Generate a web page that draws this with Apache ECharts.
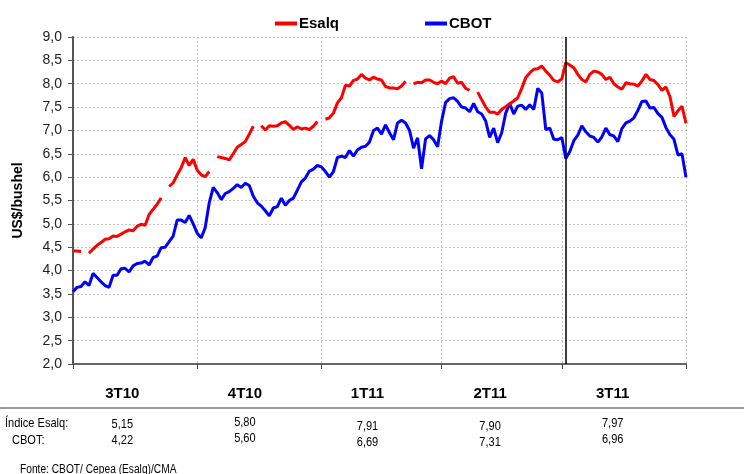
<!DOCTYPE html>
<html><head><meta charset="utf-8">
<script src="https://cdn.jsdelivr.net/npm/echarts@6/dist/echarts.min.js"></script>
<style>html,body{margin:0;padding:0;background:#fff}#c{width:744px;height:474px}</style>
</head><body><div id="c"></div>
<script>
// Quarter labels under the axis
const quarters = ['3T10', '4T10', '1T11', '2T11', '3T11'];
// Index (day position) where each quarter begins, and the end
const quarterBounds = [0, 31, 62, 92, 122, 153];
// Position of the vertical divider line
const dividerIndex = 123;

// Esalq index, US$/bushel (null = no quote)
const esalq = [
  4.42, 4.42, 4.41, null, 4.37, 4.46, 4.54, 4.60, 4.67, 4.68,
  4.74, 4.73, 4.78, 4.83, 4.87, 4.85, 4.95, 4.99, 4.97, 5.20,
  5.31, 5.42, 5.56, null, 5.80, 5.88, 6.05, 6.20, 6.42, 6.25,
  6.38, 6.15, 6.05, 6.01, 6.12, null, 6.44, 6.42, 6.40, 6.37,
  6.50, 6.64, 6.70, 6.76, 6.92, 7.09, null, 7.10, 7.01, 7.10,
  7.09, 7.10, 7.16, 7.19, 7.11, 7.02, 7.08, 7.03, 7.05, 7.02,
  7.09, 7.19, null, 7.24, 7.27, 7.37, 7.59, 7.70, 7.97, 7.95,
  8.07, 8.10, 8.20, 8.12, 8.08, 8.14, 8.10, 8.08, 7.94, 7.91,
  7.91, 7.89, 7.95, 8.05, null, 8.00, 8.03, 8.02, 8.08, 8.08,
  8.03, 8.00, 8.06, 8.00, 8.12, 8.15, 8.01, 8.03, 7.90, 7.86,
  null, 7.82, 7.66, 7.50, 7.39, 7.39, 7.35, 7.45, 7.51, 7.57,
  7.63, 7.70, 7.90, 8.13, 8.23, 8.31, 8.32, 8.38, 8.27, 8.18,
  8.07, 8.04, 8.10, 8.45, 8.40, 8.34, 8.20, 8.09, 8.04, 8.20,
  8.27, 8.25, 8.20, 8.09, 8.14, 8.00, 7.93, 7.88, 8.02, 8.00,
  7.99, 7.95, 8.06, 8.20, 8.09, 8.07, 7.98, 7.86, 7.93, 7.72,
  7.30, 7.42, 7.52, 7.15
];

// CBOT, US$/bushel
const cbot = [
  3.55, 3.64, 3.66, 3.76, 3.68, 3.94, 3.85, 3.76, 3.68, 3.64,
  3.90, 3.90, 4.04, 4.05, 3.97, 4.10, 4.15, 4.16, 4.20, 4.12,
  4.28, 4.31, 4.49, 4.50, 4.62, 4.74, 5.08, 5.08, 5.03, 5.18,
  5.00, 4.80, 4.70, 4.92, 5.45, 5.78, 5.67, 5.52, 5.65, 5.69,
  5.76, 5.84, 5.78, 5.87, 5.82, 5.59, 5.45, 5.38, 5.28, 5.17,
  5.34, 5.37, 5.55, 5.40, 5.50, 5.55, 5.72, 5.90, 5.98, 6.13,
  6.17, 6.25, 6.22, 6.12, 6.00, 6.12, 6.42, 6.45, 6.42, 6.57,
  6.45, 6.58, 6.64, 6.66, 6.75, 7.00, 7.05, 6.92, 7.12, 6.95,
  6.80, 7.16, 7.22, 7.16, 7.00, 6.62, 6.84, 6.18, 6.82, 6.89,
  6.80, 6.65, 7.20, 7.60, 7.68, 7.70, 7.62, 7.50, 7.48, 7.40,
  7.58, 7.40, 7.35, 7.20, 6.85, 7.05, 6.74, 6.95, 7.37, 7.58,
  7.35, 7.52, 7.54, 7.45, 7.55, 7.45, 7.90, 7.80, 7.02, 7.05,
  6.81, 6.80, 6.85, 6.40, 6.55, 6.78, 6.90, 7.10, 6.97, 6.88,
  6.85, 6.75, 6.86, 7.05, 6.91, 6.88, 6.76, 7.04, 7.16, 7.20,
  7.27, 7.43, 7.62, 7.63, 7.48, 7.49, 7.36, 7.28, 7.06, 6.91,
  6.81, 6.47, 6.50, 6.00
];

// Quarterly averages table
const rowLabels = ['Índice Esalq:', 'CBOT:'];
const tableEsalq = ['5,15', '5,80', '7,91', '7,90', '7,97'];
const tableCbot = ['4,22', '5,60', '6,69', '7,31', '6,96'];
const sourceText = 'Fonte: CBOT/ Cepea (Esalq)/CMA';

const FONT = 'Arial';

const chart = echarts.init(document.getElementById('c'), null, {renderer: 'canvas'});
const idx = esalq.map((_, i) => i);

chart.setOption({
  animation: false,
  backgroundColor: '#fff',
  textStyle: {fontFamily: FONT},
  legend: {
    left: 270, top: 11,
    itemGap: 86, itemWidth: 22, itemHeight: 4,
    icon: 'rect',
    textStyle: {fontFamily: FONT, fontSize: 15, fontWeight: 'bold', color: '#000', padding: [0, 0, 0, -3]},
    data: ['Esalq', 'CBOT']
  },
  grid: {left: 73, right: 58, top: 37, bottom: 110, containLabel: false},
  xAxis: [{
    type: 'category', data: idx, boundaryGap: false,
    axisLine: {show: true, lineStyle: {color: '#666', width: 2}},
    axisTick: {show: true, length: 5, interval: (i) => quarterBounds.includes(i), lineStyle: {color: '#444', width: 1}},
    axisLabel: {show: false},
    splitLine: {show: true, interval: (i) => quarterBounds.includes(i) && i > 0, lineStyle: {color: '#c4c4c4', type: [2, 2], width: 1}}
  }, {
    type: 'category', data: quarters, boundaryGap: true, position: 'bottom',
    axisLine: {show: false}, axisTick: {show: false}, splitLine: {show: false},
    axisLabel: {show: true, margin: 22, fontFamily: FONT, fontSize: 15, fontWeight: 'bold', color: '#000', padding: [0, 24, 0, 0]}
  }],
  yAxis: {
    type: 'value', min: 2, max: 9, interval: 0.5,
    name: 'US$/bushel', nameLocation: 'middle', nameGap: 48, nameRotate: 90,
    nameTextStyle: {fontFamily: FONT, fontSize: 14, fontWeight: 'bold', color: '#000'},
    axisLine: {show: true, lineStyle: {color: '#555', width: 2}},
    axisTick: {show: true, length: 5, lineStyle: {color: '#555'}},
    axisLabel: {margin: 11, fontFamily: FONT, fontSize: 14, color: '#222',
      formatter: (v) => v.toFixed(1).replace('.', ',')},
    splitLine: {show: true, lineStyle: {color: '#c4c4c4', type: [2, 2], width: 1}}
  },
  series: [{
    name: 'Esalq', type: 'line', data: esalq, showSymbol: false, symbol: 'none',
    connectNulls: false, color: '#ff0000', lineStyle: {color: '#ff0000', width: 3},
    markLine: {
      silent: true, symbol: 'none', label: {show: false},
      lineStyle: {color: '#000', width: 1.5, type: 'solid'},
      data: [{xAxis: dividerIndex}]
    },
    z: 3
  }, {
    name: 'CBOT', type: 'line', data: cbot, showSymbol: false, symbol: 'none',
    color: '#0000ff', lineStyle: {color: '#0000ff', width: 3}, z: 2
  }]
});

// Table below the chart, columns aligned to the quarter labels (condensed text)
const colX = quarters.map(q => chart.convertToPixel({xAxisIndex: 1}, q) - 12);
const SX = 0.85;
const g = [];
g.push({type: 'line', shape: {x1: 0, y1: 408, x2: 744, y2: 408}, style: {stroke: '#777', lineWidth: 1.5}});
g.push({type: 'text', x: 5, y: 423, scaleX: SX, style: {text: rowLabels[0], font: '13px Arial', fill: '#000', align: 'left', verticalAlign: 'middle'}});
g.push({type: 'text', x: 12, y: 440, scaleX: SX, style: {text: rowLabels[1], font: '13px Arial', fill: '#000', align: 'left', verticalAlign: 'middle'}});
const rowOffsets = [0, -2, 2, 2, -1];
quarters.forEach((q, i) => {
  g.push({type: 'text', x: colX[i], y: 424 + rowOffsets[i], scaleX: SX, style: {text: tableEsalq[i], font: '13px Arial', fill: '#000', align: 'center', verticalAlign: 'middle'}});
  g.push({type: 'text', x: colX[i], y: 440 + rowOffsets[i], scaleX: SX, style: {text: tableCbot[i], font: '13px Arial', fill: '#000', align: 'center', verticalAlign: 'middle'}});
});
g.push({type: 'text', x: 20, y: 470, scaleX: SX, style: {text: sourceText, font: '12px Arial', fill: '#000', align: 'left', verticalAlign: 'middle'}});
chart.setOption({graphic: g});
</script>
</body></html>
